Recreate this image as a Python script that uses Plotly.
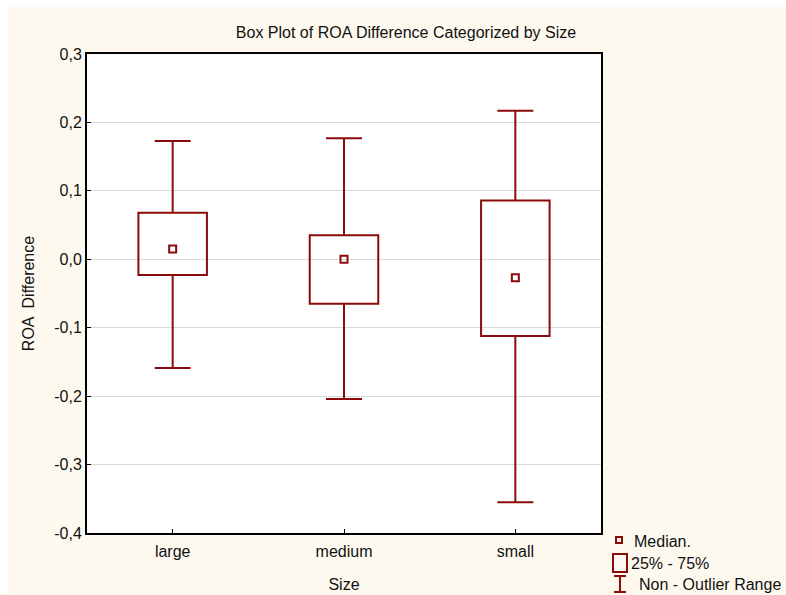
import plotly.graph_objects as go

categories = ["large", "medium", "small"]
whisker_low = [-0.159, -0.204, -0.355]
q1 = [-0.023, -0.065, -0.112]
median = [0.015, 0.0, -0.027]
q3 = [0.068, 0.035, 0.086]
whisker_high = [0.173, 0.177, 0.217]
ytick_vals = [-0.4, -0.3, -0.2, -0.1, 0.0, 0.1, 0.2, 0.3]
ytick_text = ["-0,4", "-0,3", "-0,2", "-0,1", "0,0", "0,1", "0,2", "0,3"]

RED = "#8B0A0A"
CREAM = "#FDF9EF"
FONT = "Liberation Sans, Arial, sans-serif"
BOX_HALF = 0.2
CAP_HALF = 0.105

fig = go.Figure()
shapes = []

def px_x(px):
    return (px - 87) / 514

def px_y(py):
    return (533 - py) / 479

# white strips at top and left edges (outside cream frame)
shapes.append(dict(type="rect", xref="paper", yref="paper",
                   x0=px_x(0), x1=px_x(786), y0=px_y(7), y1=px_y(0),
                   fillcolor="white", line=dict(width=0)))
shapes.append(dict(type="rect", xref="paper", yref="paper",
                   x0=px_x(0), x1=px_x(8), y0=px_y(595), y1=px_y(0),
                   fillcolor="white", line=dict(width=0)))

for i, c in enumerate(categories):
    fig.add_trace(go.Scatter(
        x=[i, i, None, i, i, None, i - CAP_HALF, i + CAP_HALF, None, i - CAP_HALF, i + CAP_HALF],
        y=[q3[i], whisker_high[i], None, q1[i], whisker_low[i], None,
           whisker_high[i], whisker_high[i], None, whisker_low[i], whisker_low[i]],
        mode="lines", line=dict(color=RED, width=2), showlegend=False, hoverinfo="skip"))
    shapes.append(dict(type="rect", xref="x", yref="y",
                       x0=i - BOX_HALF, x1=i + BOX_HALF, y0=q1[i], y1=q3[i],
                       line=dict(color=RED, width=2), fillcolor="rgba(0,0,0,0)"))

fig.add_trace(go.Scatter(x=list(range(len(categories))), y=median, mode="markers",
                         marker=dict(symbol="square-open", size=7, color=RED,
                                     line=dict(width=2, color=RED)),
                         showlegend=False, hoverinfo="skip"))

# legend glyphs
shapes.append(dict(type="rect", xref="paper", yref="paper",
                   x0=px_x(616), x1=px_x(622), y0=px_y(543), y1=px_y(537),
                   line=dict(color=RED, width=2)))
shapes.append(dict(type="rect", xref="paper", yref="paper",
                   x0=px_x(613), x1=px_x(627), y0=px_y(572), y1=px_y(554),
                   line=dict(color=RED, width=2)))
shapes.append(dict(type="line", xref="paper", yref="paper",
                   x0=px_x(620), x1=px_x(620), y0=px_y(576), y1=px_y(592),
                   line=dict(color=RED, width=2)))
shapes.append(dict(type="line", xref="paper", yref="paper",
                   x0=px_x(614), x1=px_x(626), y0=px_y(576), y1=px_y(576),
                   line=dict(color=RED, width=2)))
shapes.append(dict(type="line", xref="paper", yref="paper",
                   x0=px_x(614), x1=px_x(626), y0=px_y(592), y1=px_y(592),
                   line=dict(color=RED, width=2)))

annotations = [
    dict(text="Median.", x=px_x(632), y=px_y(541), xanchor="left", yanchor="middle"),
    dict(text="25% - 75%", x=px_x(629), y=px_y(563), xanchor="left", yanchor="middle"),
    dict(text="Non - Outlier Range", x=px_x(637), y=px_y(584), xanchor="left", yanchor="middle"),
]
for a in annotations:
    a.update(xref="paper", yref="paper", showarrow=False,
             font=dict(family=FONT, size=16, color="#111111"))

fig.update_layout(
    width=786, height=595,
    margin=dict(l=87, r=185, t=54, b=62),
    paper_bgcolor=CREAM, plot_bgcolor="white",
    font=dict(family=FONT, size=16, color="#111111"),
    title=dict(text="Box Plot of ROA Difference Categorized by Size",
               x=406 / 786, xanchor="center", y=1 - 32 / 595, yanchor="middle",
               font=dict(family=FONT, size=16, color="#111111")),
    shapes=shapes, annotations=annotations,
    xaxis=dict(range=[-0.5, 2.5], tickvals=[0, 1, 2], ticktext=categories,
               automargin=False, ticklabelstandoff=3,
               showgrid=False, zeroline=False, showline=True, linecolor="black",
               linewidth=2, mirror=True, ticks="inside", ticklen=4, tickcolor="black",
               title=dict(text="Size", standoff=20, font=dict(size=16))),
    yaxis=dict(range=[-0.4, 0.3], tickvals=ytick_vals, ticktext=ytick_text,
               automargin=False,
               showgrid=True, gridcolor="#D9D9D9", gridwidth=1, zeroline=False,
               showline=True, linecolor="black", linewidth=2, mirror=True,
               ticks="inside", ticklen=4, tickcolor="black",
               title=dict(text="ROA  Difference", standoff=16, font=dict(size=16))),
)

fig.write_html("out.html")
